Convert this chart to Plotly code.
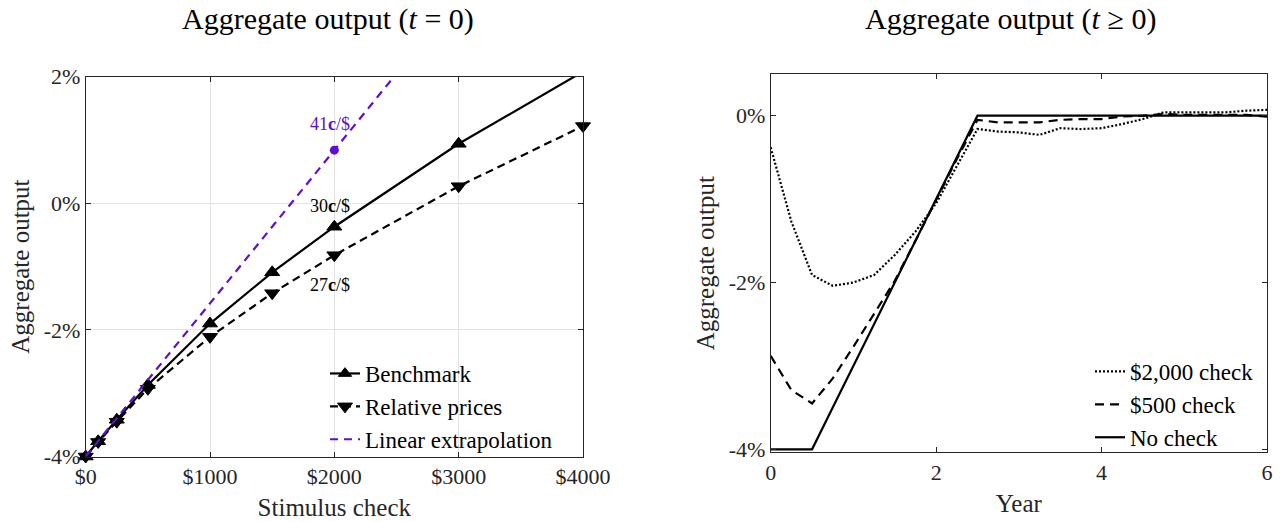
import plotly.graph_objects as go

# ---------------- data ----------------
# Left panel: impact response at t = 0 by stimulus check size
check_sizes = [0, 100, 250, 500, 1000, 1500, 2000, 3000, 4000]
benchmark = [-4.00, -3.76, -3.42, -2.87, -1.90, -1.09, -0.37, 0.94, 2.08]
relative_prices = [-4.00, -3.77, -3.45, -2.93, -2.11, -1.42, -0.82, 0.27, 1.22]

# Linear extrapolation of the small-check response (% of output per $)
extrap_start = -4.00
extrap_slope = 0.00242
extrap_checks = [0, 4000]
extrap_marker_check = 2000

# Multipliers printed next to the $2000 points
mult_labels = ["41<b>c</b>/$", "30<b>c</b>/$", "27<b>c</b>/$"]

left_xticks = [0, 1000, 2000, 3000, 4000]
left_xticktext = ["$0", "$1000", "$2000", "$3000", "$4000"]
left_yticks = [-4, -2, 0, 2]
left_yticktext = ["-4%", "-2%", "0%", "2%"]

# Right panel: dynamic paths by year
years = [0, 0.25, 0.5, 0.75, 1.0, 1.25, 1.5, 1.75, 2.0, 2.25, 2.5, 2.75, 3.0,
         3.25, 3.5, 3.75, 4.0, 4.25, 4.5, 4.75, 5.0, 5.25, 5.5, 5.75, 6.0]
check_2000 = [-0.38, -1.27, -1.91, -2.04, -2.00, -1.91, -1.67, -1.39, -1.05,
              -0.60, -0.16, -0.19, -0.20, -0.23, -0.15, -0.16, -0.15, -0.10,
              -0.04, 0.04, 0.04, 0.04, 0.04, 0.06, 0.07]
check_500 = [-2.88, -3.29, -3.45, -3.15, -2.77, -2.37, -1.98, -1.50, -1.00,
             -0.52, -0.05, -0.08, -0.08, -0.08, -0.05, -0.04, -0.04, -0.01,
             0.00, 0.02, 0.01, 0.01, 0.01, 0.01, -0.01]
no_check = [-4.0, -4.0, -4.0, -3.5, -3.0, -2.5, -2.0, -1.5, -1.0, -0.5, 0.0,
            0.0, 0.0, 0.0, 0.0, 0.0, 0.0, 0.0, 0.0, 0.0, 0.0, 0.0, 0.0, 0.0, 0.0]

right_xticks = [0, 2, 4, 6]
right_yticks = [-4, -2, 0]
right_yticktext = ["-4%", "-2%", "0%"]

# ---------------- style ----------------
W, H = 1281, 522
FONT = "Liberation Serif"
AXC = "#262626"
PURPLE = "#6010CC"
LW = 2.2
LEFT_YRANGE = [-4, 2]

fig = go.Figure()

# Markers are only shown for points inside the axis limits
def marker_sizes(values, size):
    return [size if LEFT_YRANGE[0] <= v <= LEFT_YRANGE[1] else 0 for v in values]

extrap_y = [extrap_start + extrap_slope * c for c in extrap_checks]
extrap_marker_y = extrap_start + extrap_slope * extrap_marker_check

fig.add_trace(go.Scatter(
    x=check_sizes, y=benchmark, name="Benchmark", mode="lines+markers",
    line=dict(color="black", width=LW),
    marker=dict(symbol="triangle-up", size=marker_sizes(benchmark, 13), color="black",
                opacity=1, line=dict(color="black", width=1)),
    cliponaxis=False, xaxis="x", yaxis="y", legend="legend"))
fig.add_trace(go.Scatter(
    x=check_sizes, y=relative_prices, name="Relative prices", mode="lines+markers",
    line=dict(color="black", width=LW, dash="8px,5px"),
    marker=dict(symbol="triangle-down", size=marker_sizes(relative_prices, 13), color="black",
                opacity=1, line=dict(color="black", width=1)),
    cliponaxis=False, xaxis="x", yaxis="y", legend="legend"))
fig.add_trace(go.Scatter(
    x=extrap_checks, y=extrap_y, name="Linear extrapolation", mode="lines",
    line=dict(color=PURPLE, width=LW, dash="8px,6px"),
    xaxis="x", yaxis="y", legend="legend"))
fig.add_trace(go.Scatter(
    x=[extrap_marker_check], y=[extrap_marker_y], mode="markers", showlegend=False,
    marker=dict(symbol="circle", size=9, color=PURPLE, opacity=1),
    xaxis="x", yaxis="y"))

# Multiplier labels placed relative to the $2000 points
idx2000 = check_sizes.index(2000)
label_specs = [
    (extrap_marker_y, mult_labels[0], PURPLE, 26),
    (benchmark[idx2000], mult_labels[1], "black", 21),
    (relative_prices[idx2000], mult_labels[2], "black", -30),
]
annotations = []
for yv, txt, col, shift in label_specs:
    annotations.append(dict(
        x=extrap_marker_check, y=yv, xref="x", yref="y", text=txt, showarrow=False,
        xshift=-4, yshift=shift, font=dict(family=FONT, size=18, color=col)))

fig.add_trace(go.Scatter(
    x=years, y=check_2000, name="$2,000 check", mode="lines",
    line=dict(color="black", width=LW, dash="2px,2px"),
    xaxis="x2", yaxis="y2", legend="legend2"))
fig.add_trace(go.Scatter(
    x=years, y=check_500, name="$500 check", mode="lines",
    line=dict(color="black", width=LW, dash="9px,6px"),
    xaxis="x2", yaxis="y2", legend="legend2"))
fig.add_trace(go.Scatter(
    x=years, y=no_check, name="No check", mode="lines",
    line=dict(color="black", width=LW),
    xaxis="x2", yaxis="y2", legend="legend2"))

# Panel titles
left_dom = [85.7 / W, 583 / W]
right_dom = [770.7 / W, 1267 / W]
annotations.append(dict(
    x=328 / W, y=1 - 19 / H, xref="paper", yref="paper",
    xanchor="center", yanchor="middle",
    text="Aggregate output (<i>t</i> = 0)", showarrow=False,
    font=dict(family=FONT, size=30, color="black")))
annotations.append(dict(
    x=1010 / W, y=1 - 19 / H, xref="paper", yref="paper",
    xanchor="center", yanchor="middle",
    text="Aggregate output (<i>t</i> ≥ 0)", showarrow=False,
    font=dict(family=FONT, size=30, color="black")))

tickfont = dict(family=FONT, size=22, color=AXC)
titlefont = dict(family=FONT, size=25, color=AXC)
common_axis = dict(
    showline=True, linecolor=AXC, linewidth=1, mirror="allticks",
    ticks="inside", ticklen=5, tickcolor=AXC, tickfont=tickfont,
    zeroline=False, automargin=False)

fig.update_layout(
    width=W, height=H, margin=dict(l=0, r=0, t=0, b=0),
    paper_bgcolor="white", plot_bgcolor="white",
    font=dict(family=FONT, color=AXC),
    annotations=annotations,
    xaxis=dict(common_axis, domain=left_dom, range=[0, 4000],
               tickvals=left_xticks, ticktext=left_xticktext,
               showgrid=True, gridcolor="#e3e3e3", gridwidth=1,
               title=dict(text="Stimulus check", font=titlefont, standoff=10),
               anchor="y"),
    yaxis=dict(common_axis, domain=[1 - 456.5 / H, 1 - 76.7 / H], range=LEFT_YRANGE,
               tickvals=left_yticks, ticktext=left_yticktext,
               showgrid=True, gridcolor="#e3e3e3", gridwidth=1,
               title=dict(text="Aggregate output", font=titlefont, standoff=6),
               anchor="x"),
    xaxis2=dict(common_axis, domain=right_dom, range=[0, 6],
                tickvals=right_xticks, showgrid=False,
                title=dict(text="Year", font=titlefont, standoff=10),
                anchor="y2"),
    yaxis2=dict(common_axis, domain=[1 - 452.3 / H, 1 - 74 / H], range=[-4.036, 0.5],
                tickvals=right_yticks, ticktext=right_yticktext, showgrid=False,
                title=dict(text="Aggregate output", font=titlefont, standoff=6),
                anchor="x2"),
    legend=dict(x=325 / W, y=1 - 352 / H, xanchor="left", yanchor="top",
                bgcolor="rgba(0,0,0,0)", font=dict(family=FONT, size=23, color="black"),
                tracegroupgap=0, itemwidth=30),
    legend2=dict(x=1090 / W, y=1 - 350 / H, xanchor="left", yanchor="top",
                 bgcolor="rgba(0,0,0,0)", font=dict(family=FONT, size=23, color="black"),
                 tracegroupgap=0, itemwidth=30),
)

fig.write_html("out.html")
